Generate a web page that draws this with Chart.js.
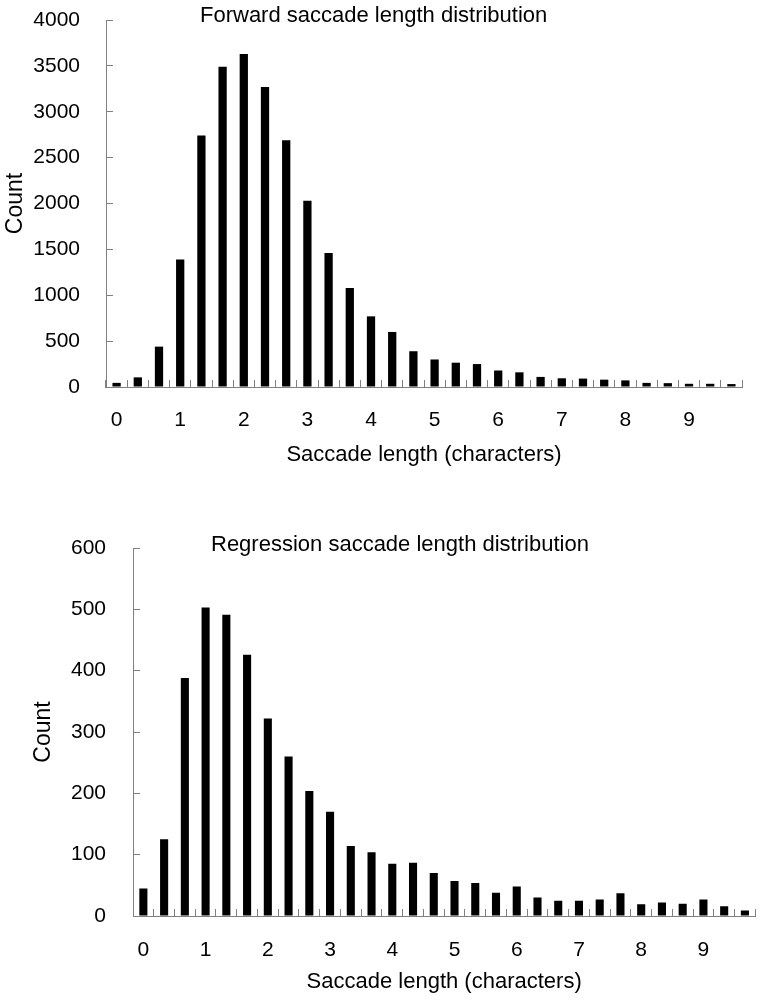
<!DOCTYPE html>
<html>
<head>
<meta charset="utf-8">
<script src="https://cdn.jsdelivr.net/npm/chart.js@4"></script>
<style>
  body { margin: 0; background: #fff; }
  canvas { display: block; }
</style>
</head>
<body>
<canvas id="forwardChart" width="774" height="480"></canvas>
<canvas id="regressionChart" width="774" height="520"></canvas>
<script>
// bins are 1/3 character wide
const bins = ['0', '0.33', '0.67', '1', '1.33', '1.67', '2', '2.33', '2.67', '3',
    '3.33', '3.67', '4', '4.33', '4.67', '5', '5.33', '5.67', '6', '6.33',
    '6.67', '7', '7.33', '7.67', '8', '8.33', '8.67', '9', '9.33', '9.67'];
const tickLabels = ['0', '1', '2', '3', '4', '5', '6', '7', '8', '9'];

const forwardCounts = [45, 105, 440, 1390, 2740, 3490, 3630, 3270, 2690, 2030,
    1460, 1080, 770, 600, 390, 300, 265, 250, 180, 160,
    110, 95, 92, 80, 72, 45, 42, 35, 35, 32];
const regressionCounts = [45, 125, 388, 503, 491, 426, 322, 260, 204, 170,
    114, 104, 85, 87, 70, 57, 54, 38, 48, 30,
    25, 25, 27, 37, 19, 22, 20, 27, 16, 9];

const FONT = 'Liberation Sans, Arial, sans-serif';
const GREY = '#808080';

// title drawn inside the plot area, like the original figure
const innerTitle = {
    id: 'innerTitle',
    afterDraw(chart, args, opts) {
        const ctx = chart.ctx;
        ctx.save();
        ctx.font = '22px ' + FONT;
        ctx.fillStyle = '#000';
        ctx.textAlign = 'left';
        ctx.textBaseline = 'alphabetic';
        ctx.fillText(opts.text, chart.chartArea.left + opts.dx, opts.y);
        ctx.restore();
    }
};

function makeChart(id, values, cfg) {
    const ctx = document.getElementById(id).getContext('2d');
    return new Chart(ctx, {
        type: 'bar',
        data: {
            labels: bins,
            datasets: [{
                label: 'Count',
                data: values,
                backgroundColor: '#000',
                barPercentage: 0.39,
                categoryPercentage: 1
            }]
        },
        options: {
            responsive: false,
            animation: false,
            devicePixelRatio: 1,
            layout: { padding: { top: cfg.top, right: cfg.right, left: 0, bottom: 0 } },
            plugins: {
                legend: { display: false },
                tooltip: { enabled: false },
                innerTitle: { text: cfg.title, dx: cfg.titleDx, y: cfg.titleY }
            },
            scales: {
                x: {
                    offset: true,
                    grid: { offset: true, drawOnChartArea: false, drawTicks: true, tickLength: -7, color: GREY },
                    border: { color: GREY },
                    ticks: {
                        autoSkip: false,
                        maxRotation: 0,
                        padding: cfg.xPad,
                        color: '#000',
                        font: { family: FONT, size: 21 },
                        callback: (v, i) => i % 3 === 0 ? tickLabels[i / 3] : ''
                    },
                    title: {
                        display: true,
                        text: 'Saccade length (characters)',
                        color: '#000',
                        font: { family: FONT, size: 22 },
                        padding: { top: 0, bottom: cfg.xTitlePad }
                    },
                    afterFit: (scale) => { scale.height = cfg.xHeight; }
                },
                y: {
                    min: 0,
                    max: cfg.yMax,
                    grid: { drawOnChartArea: false, drawTicks: true, tickLength: -7, color: GREY },
                    border: { color: GREY },
                    ticks: {
                        stepSize: cfg.yStep,
                        padding: cfg.yPad,
                        color: '#000',
                        font: { family: FONT, size: 21 },
                        callback: (v) => String(v)
                    },
                    title: {
                        display: true,
                        text: 'Count',
                        color: '#000',
                        font: { family: FONT, size: 23 },
                        padding: { top: cfg.yTitlePad, bottom: 0 }
                    },
                    afterFit: (scale) => {
                        scale.width = cfg.yWidth;
                        // big label padding should not push the plot down
                        scale.paddingTop = 0;
                        scale.paddingBottom = 0;
                    }
                }
            }
        },
        plugins: [innerTitle]
    });
}

makeChart('forwardChart', forwardCounts, {
    title: 'Forward saccade length distribution', titleDx: 94, titleY: 22,
    top: 20, right: 32, yWidth: 106, xHeight: 93,
    yMax: 4000, yStep: 500, yPad: 33, xPad: 28, xTitlePad: 12, yTitlePad: 2
});

makeChart('regressionChart', regressionCounts, {
    title: 'Regression saccade length distribution', titleDx: 78, titleY: 71,
    top: 68, right: 5, yWidth: 133, xHeight: 84,
    yMax: 600, yStep: 100, yPad: 34, xPad: 29, xTitlePad: 5, yTitlePad: 30
});
</script>
</body>
</html>
